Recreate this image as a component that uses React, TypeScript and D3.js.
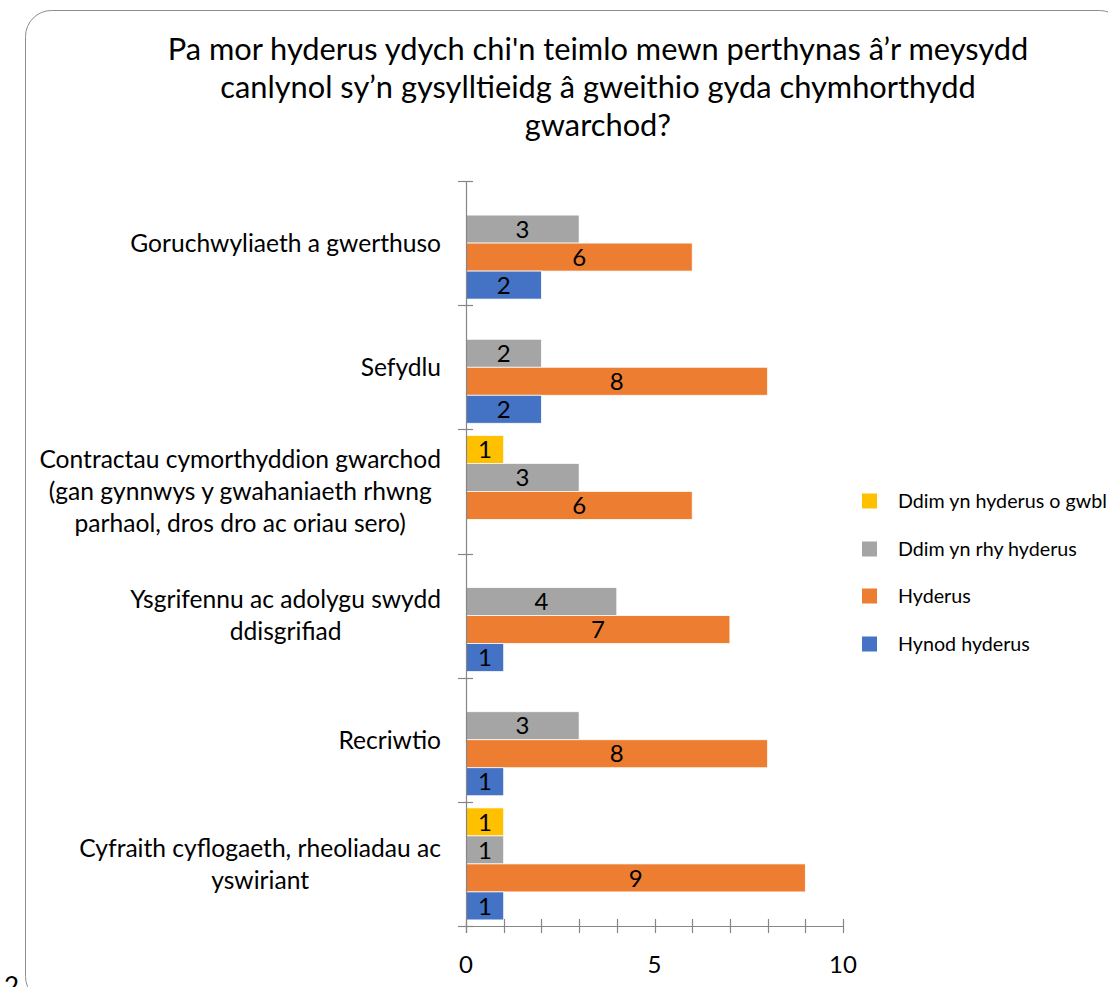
import React, { useEffect, useRef } from "react";
import * as d3 from "d3";

const titleLines = [
  "Pa mor hyderus ydych chi'n teimlo mewn perthynas â’r meysydd",
  "canlynol sy’n gysylltieidg â gweithio gyda chymhorthydd",
  "gwarchod?",
];

// categories top to bottom, each as label lines
const categories: string[][] = [
  ["Goruchwyliaeth a gwerthuso"],
  ["Sefydlu"],
  [
    "Contractau cymorthyddion gwarchod",
    "(gan gynnwys y gwahaniaeth rhwng",
    "parhaol, dros dro ac oriau sero)",
  ],
  ["Ysgrifennu ac adolygu swydd", "ddisgrifiad"],
  ["Recriwtio"],
  ["Cyfraith cyflogaeth, rheoliadau ac", "yswiriant"],
];

const seriesNames = [
  "Ddim yn hyderus o gwbl",
  "Ddim yn rhy hyderus",
  "Hyderus",
  "Hynod hyderus",
];
const seriesColors = ["#FFC000", "#A5A5A5", "#ED7D31", "#4472C4"];

const ddimOGwbl = [0, 0, 1, 0, 0, 1];
const ddimRhy = [3, 2, 3, 4, 3, 1];
const hyderus = [6, 8, 6, 7, 8, 9];
const hynod = [2, 2, 0, 1, 1, 1];
const seriesValues = [ddimOGwbl, ddimRhy, hyderus, hynod];

const xTicks = [0, 5, 10];

const FONT = "Lato, 'Open Sans', 'Liberation Sans', sans-serif";

export default function App() {
  const ref = useRef<SVGSVGElement | null>(null);

  useEffect(() => {
    const svg = d3.select(ref.current);
    svg.selectAll("*").remove();

    // border
    svg
      .append("rect")
      .attr("x", 25.5)
      .attr("y", 10.5)
      .attr("width", 1100)
      .attr("height", 992)
      .attr("rx", 26)
      .attr("fill", "white")
      .attr("stroke", "#8c8c8c")
      .attr("stroke-width", 1);

    svg
      .append("text")
      .attr("x", 4)
      .attr("y", 996)
      .attr("font-family", FONT)
      .attr("font-size", 26)
      .attr("fill", "#000")
      .text("2");

    // title
    svg
      .append("g")
      .selectAll("text")
      .data(titleLines)
      .join("text")
      .attr("x", 598)
      .attr("y", (d, i) => 60 + i * 38)
      .attr("text-anchor", "middle")
      .attr("font-family", FONT)
      .attr("font-size", 30.8)
      .attr("fill", "#000")
      .text((d) => d);

    const catIdx = categories.map((_, i) => String(i));
    const x = d3.scaleLinear().domain([0, 10]).range([466, 843]);
    const y = d3.scaleBand<string>().domain(catIdx).range([181, 926]);
    const inner = d3
      .scaleBand<string>()
      .domain(seriesNames)
      .range([0, y.bandwidth()])
      .paddingInner(0)
      .paddingOuter(0.217);

    // bars
    const barsG = svg.append("g");
    seriesNames.forEach((s, si) => {
      const vals = seriesValues[si];
      const g = barsG.append("g");
      const pts = vals.map((v, ci) => ({ v, ci })).filter((d) => d.v > 0);
      g.selectAll("rect")
        .data(pts)
        .join("rect")
        .attr("x", x(0))
        .attr("y", (d) => (y(String(d.ci)) as number) + (inner(s) as number))
        .attr("width", (d) => x(d.v) - x(0))
        .attr("height", inner.bandwidth())
        .attr("fill", seriesColors[si])
        .attr("stroke", "white")
        .attr("stroke-width", 0.75);
      g.selectAll("text")
        .data(pts)
        .join("text")
        .attr("x", (d) => (x(0) + x(d.v)) / 2)
        .attr(
          "y",
          (d) =>
            (y(String(d.ci)) as number) +
            (inner(s) as number) +
            inner.bandwidth() / 2
        )
        .attr("dy", "0.36em")
        .attr("text-anchor", "middle")
        .attr("font-family", FONT)
        .attr("font-size", 24)
        .attr("fill", "#000")
        .text((d) => String(d.v));
    });

    const axisColor = "#868686";
    // x axis
    const ax = svg.append("g");
    ax.append("line")
      .attr("x1", 458)
      .attr("x2", x(10))
      .attr("y1", 926.5)
      .attr("y2", 926.5)
      .attr("stroke", axisColor)
      .attr("stroke-width", 1.2);
    ax.selectAll("line.tick")
      .data(d3.range(0, 11))
      .join("line")
      .attr("class", "tick")
      .attr("x1", (d) => Math.round(x(d)) + 0.5)
      .attr("x2", (d) => Math.round(x(d)) + 0.5)
      .attr("y1", 919)
      .attr("y2", 933)
      .attr("stroke", axisColor)
      .attr("stroke-width", 1.2);
    ax.selectAll("text")
      .data(xTicks)
      .join("text")
      .attr("x", (d) => x(d))
      .attr("y", 973)
      .attr("text-anchor", "middle")
      .attr("font-family", FONT)
      .attr("font-size", 24)
      .attr("fill", "#000")
      .text((d) => String(d));

    // y axis
    const ay = svg.append("g");
    ay.append("line")
      .attr("x1", 466.5)
      .attr("x2", 466.5)
      .attr("y1", 181)
      .attr("y2", 933)
      .attr("stroke", axisColor)
      .attr("stroke-width", 1.2);
    const edges = catIdx.map((c) => y(c) as number).concat([926]);
    ay.selectAll("line.tick")
      .data(edges)
      .join("line")
      .attr("class", "tick")
      .attr("x1", 458)
      .attr("x2", 473)
      .attr("y1", (d) => Math.round(d) + 0.5)
      .attr("y2", (d) => Math.round(d) + 0.5)
      .attr("stroke", axisColor)
      .attr("stroke-width", 1.2);

    // category labels: block right-aligned at 441, lines centered within block
    const labelRight = 441;
    const lineH = 32;
    categories.forEach((lines, ci) => {
      const cy = (y(String(ci)) as number) + y.bandwidth() / 2;
      const g = ay.append("g");
      const texts = g
        .selectAll("text")
        .data(lines)
        .join("text")
        .attr("y", (d, i) => cy + (i - (lines.length - 1) / 2) * lineH)
        .attr("dy", "0.36em")
        .attr("text-anchor", "middle")
        .attr("font-family", FONT)
        .attr("font-size", 24.6)
        .attr("fill", "#000")
        .text((d) => d);
      let maxW = 0;
      texts.each(function () {
        const w = (this as SVGTextElement).getComputedTextLength();
        if (w > maxW) maxW = w;
      });
      texts.attr("x", labelRight - maxW / 2);
    });

    // legend
    const legendY = [501, 549, 596, 644];
    const lg = svg.append("g");
    seriesNames.forEach((s, i) => {
      lg.append("rect")
        .attr("x", 862)
        .attr("y", legendY[i] - 7.5)
        .attr("width", 15)
        .attr("height", 15)
        .attr("fill", seriesColors[i]);
      lg.append("text")
        .attr("x", 898)
        .attr("y", legendY[i])
        .attr("dy", "0.36em")
        .attr("font-family", FONT)
        .attr("font-size", 19.7)
        .attr("fill", "#000")
        .text(s);
    });
  }, []);

  return (
    <svg
      ref={ref}
      width={1108}
      height={987}
      style={{ position: "absolute", left: 0, top: 0, background: "white" }}
    />
  );
}
